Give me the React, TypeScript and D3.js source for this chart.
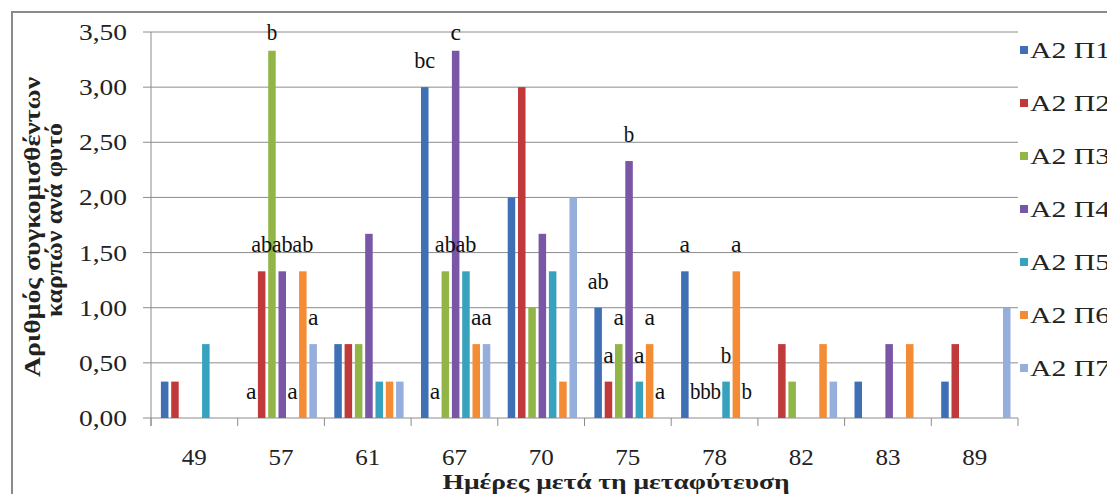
import React from "react";
import * as d3 from "d3";

const categories = ["49", "57", "61", "67", "70", "75", "78", "82", "83", "89"];
const seriesNames = ["Α2 Π1", "Α2 Π2", "Α2 Π3", "Α2 Π4", "Α2 Π5", "Α2 Π6", "Α2 Π7"];

const p1 = [0.33, 0, 0.67, 3.0, 2.0, 1.0, 1.33, 0, 0.33, 0.33];
const p2 = [0.33, 1.33, 0.67, 0, 3.0, 0.33, 0, 0.67, 0, 0.67];
const p3 = [0, 3.33, 0.67, 1.33, 1.0, 0.67, 0, 0.33, 0, 0];
const p4 = [0, 1.33, 1.67, 3.33, 1.67, 2.33, 0, 0, 0.67, 0];
const p5 = [0.67, 0, 0.33, 1.33, 1.33, 0.33, 0.33, 0, 0, 0];
const p6 = [0, 1.33, 0.33, 0.67, 0.33, 0.67, 1.33, 0.67, 0.67, 0];
const p7 = [0, 0.67, 0.33, 0.67, 2.0, 0, 0, 0.33, 0, 1.0];

// significance letters per series, per category ("" = none)
const l1 = ["", "a", "", "bc", "", "ab", "a", "", "", ""];
const l2 = ["", "ab", "", "a", "", "a", "b", "", "", ""];
const l3 = ["", "b", "", "ab", "", "a", "b", "", "", ""];
const l4 = ["", "ab", "", "c", "", "b", "b", "", "", ""];
const l5 = ["", "a", "", "ab", "", "a", "b", "", "", ""];
const l6 = ["", "ab", "", "a", "", "a", "a", "", "", ""];
const l7 = ["", "a", "", "a", "", "a", "b", "", "", ""];

const yTicks = [0, 0.5, 1, 1.5, 2, 2.5, 3, 3.5];

const values = [p1, p2, p3, p4, p5, p6, p7];
const letters = [l1, l2, l3, l4, l5, l6, l7];
const colors = ["#3F6FB5", "#C0393B", "#92B547", "#7A56A6", "#36A2BE", "#F38C35", "#95AEDC"];

// manual label nudges (layout only)
const nudges: Record<string, [number, number]> = { "4-3": [17, 10] };

const W = 1107;
const H = 494;
const plot = { left: 151, right: 1018, top: 32, bottom: 418 };
const FAM = '"Liberation Serif", "Times New Roman", serif';
const ts = { fontFamily: FAM };

export default function App() {
  const x = d3.scaleBand<string>().domain(categories).range([plot.left, plot.right]).paddingInner(0).paddingOuter(0);
  const xi = d3
    .scaleBand<string>()
    .domain(seriesNames)
    .range([1.2, x.bandwidth() + 1.2])
    .paddingInner(0.27)
    .paddingOuter(0.845);
  const y = d3.scaleLinear().domain([0, 3.5]).range([plot.bottom, plot.top]);
  const fmt = (v: number) => d3.format(".2f")(v).replace(".", ",");

  const boundaries = categories.map((c) => x(c)!).concat([plot.right]);

  return (
    <svg
      width={W}
      height={H}
      fontFamily={FAM}
      style={{ position: "absolute", left: 0, top: 0, display: "block", background: "#fff", fontFamily: FAM }}
    >
      <rect x={0} y={0} width={W} height={H} fill="#fff" />
      {/* outer frame */}
      <rect x={12} y={12} width={W + 20} height={H + 20} fill="none" stroke="#8a8a8a" strokeWidth={2} />

      {/* gridlines */}
      {yTicks.map((t) => (
        <line key={"g" + t} x1={plot.left - 8} x2={plot.right} y1={y(t)} y2={y(t)} stroke="#8c8c8c" strokeWidth={1} />
      ))}
      {/* y axis */}
      <line x1={plot.left} x2={plot.left} y1={plot.top} y2={plot.bottom + 8} stroke="#8c8c8c" strokeWidth={1} />
      {/* x ticks */}
      {boundaries.map((b, i) => (
        <line key={"xt" + i} x1={b} x2={b} y1={plot.bottom} y2={plot.bottom + 8} stroke="#8c8c8c" strokeWidth={1} />
      ))}

      {/* y tick labels */}
      {yTicks.map((t) => (
        <text
          key={"yl" + t}
          x={127}
          y={y(t) + 8}
          textAnchor="end"
          fontSize={24}
          fill="#222"
          style={ts}
          textLength={48}
          lengthAdjust="spacingAndGlyphs"
        >
          {fmt(t)}
        </text>
      ))}

      {/* bars */}
      {values.map((vals, si) =>
        vals.map((v, ci) =>
          v > 0 ? (
            <rect
              key={"b" + si + "-" + ci}
              x={x(categories[ci])! + xi(seriesNames[si])!}
              y={y(v)}
              width={xi.bandwidth()}
              height={y(0) - y(v)}
              fill={colors[si]}
            />
          ) : null
        )
      )}

      {/* letters */}
      {letters.map((ls, si) =>
        ls.map((l, ci) => {
          if (!l) return null;
          const v = values[si][ci];
          const cx = x(categories[ci])! + xi(seriesNames[si])! + xi.bandwidth() / 2;
          const base = Math.max(y(v) - 19, 40);
          const nd = nudges[ci + "-" + si] || [0, 0];
          const w = l.length * 10.5;
          return (
            <text
              key={"l" + si + "-" + ci}
              x={cx + nd[0] - w / 2}
              y={base + nd[1]}
              fontSize={23}
              fill="#111"
              style={ts}
              textLength={w}
              lengthAdjust="spacingAndGlyphs"
            >
              {l}
            </text>
          );
        })
      )}

      {/* x labels */}
      {categories.map((c) => (
        <text
          key={"xl" + c}
          x={x(c)! + x.bandwidth() / 2 - 12.5}
          y={465}
          fontSize={24}
          fill="#222"
          style={ts}
          textLength={25}
          lengthAdjust="spacingAndGlyphs"
        >
          {c}
        </text>
      ))}

      {/* axis titles */}
      <text
        x={616 - 173.5}
        y={489}
        fontSize={22}
        fontWeight="bold"
        fill="#222"
        style={ts}
        textLength={347}
        lengthAdjust="spacingAndGlyphs"
      >
        Ημέρες μετά  τη μεταφύτευση
      </text>
      <g transform="translate(32,227) rotate(-90)">
        <text
          x={-150}
          y={8}
          fontSize={23}
          fontWeight="bold"
          fill="#222"
          style={ts}
          textLength={300}
          lengthAdjust="spacingAndGlyphs"
        >
          Αριθμός συγκομισθέντων
        </text>
      </g>
      <g transform="translate(54,220) rotate(-90)">
        <text
          x={-97}
          y={8}
          fontSize={23}
          fontWeight="bold"
          fill="#222"
          style={ts}
          textLength={194}
          lengthAdjust="spacingAndGlyphs"
        >
          καρπών ανά φυτό
        </text>
      </g>

      {/* legend */}
      {seriesNames.map((s, i) => {
        const ly = 50 + i * 53;
        return (
          <g key={"lg" + s}>
            <rect x={1020} y={ly - 4} width={8} height={8} fill={colors[i]} />
            <text x={1030} y={ly + 8} fontSize={24} fill="#222" style={ts} textLength={80} lengthAdjust="spacingAndGlyphs">
              {s}
            </text>
          </g>
        );
      })}
    </svg>
  );
}
